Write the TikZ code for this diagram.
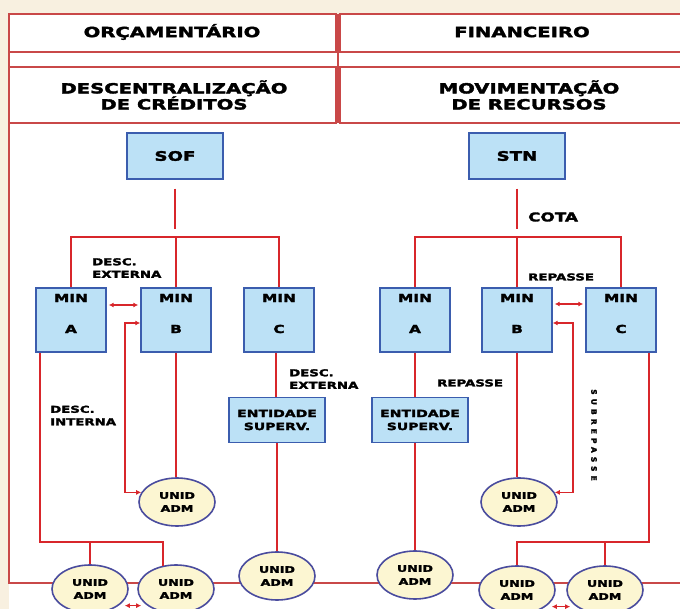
\documentclass[tikz,border=0pt]{standalone}
\usepackage{fontspec}
\newfontfamily\lbl[FakeStretch=1.4,BoldFeatures={FakeBold=2.5}]{DejaVu Sans}
\newfontfamily\vlbl[LetterSpace=55,BoldFeatures={FakeBold=2.5}]{DejaVu Sans}
\usetikzlibrary{shapes.geometric,arrows.meta}
\definecolor{cream}{HTML}{F8F0E0}
\definecolor{lred}{HTML}{D8262B}
\definecolor{fred}{HTML}{C94848}
\definecolor{boxfill}{HTML}{BCE1F6}
\definecolor{boxline}{HTML}{3B5DAE}
\definecolor{ellfill}{HTML}{FCF6D2}
\definecolor{ellline}{HTML}{4A4C9E}
\pgfdeclarelayer{bg}
\pgfsetlayers{bg,main}
\newcommand\minnode[3]{%
  \node[minbox] (#1) at (#2,320) {};
  \node[mtxt] at ([yshift=22pt]#1.center) {MIN};
  \node[mtxt] at ([yshift=-9pt]#1.center) {#3};}
\begin{document}
\begin{tikzpicture}[x=1pt,y=-1pt,
  conn/.style={draw=lred,line width=1.8pt},
  arr/.style={draw=lred,line width=1.3pt,{Latex[length=5pt,width=5pt]}-{Latex[length=5pt,width=5pt]}},
  frame/.style={draw=fred,line width=1.4pt},
  hdrtxt/.style={font=\lbl\bfseries\fontsize{14}{16}\selectfont,align=center,inner sep=0},
  topbox/.style={draw=boxline,line width=1.4pt,fill=boxfill,minimum width=96pt,minimum height=46pt,inner sep=0,font=\lbl\bfseries\fontsize{13}{15}\selectfont},
  minbox/.style={draw=boxline,line width=1.4pt,fill=boxfill,minimum width=70pt,minimum height=64pt,inner sep=0},
  mtxt/.style={font=\lbl\bfseries\fontsize{11}{13}\selectfont,inner sep=0},
  entbox/.style={draw=boxline,line width=1.4pt,fill=boxfill,minimum width=96pt,minimum height=45pt,inner sep=0,align=center,font=\lbl\bfseries\fontsize{10}{13}\selectfont},
  ell/.style={ellipse,draw=ellline,line width=1.6pt,fill=ellfill,minimum width=76pt,minimum height=48pt,inner sep=0,align=center,font=\lbl\bfseries\fontsize{9}{13}\selectfont},
  lab/.style={font=\lbl\bfseries\fontsize{9.5}{12.5}\selectfont,align=left,inner sep=0,anchor=west}]
\useasboundingbox (0,0) rectangle (680,609);
\clip (0,0) rectangle (680,609);

% headers
\draw[frame] (9,14) rectangle (336,52);
\draw[frame] (340,14) rectangle (710,52);
\draw[frame] (9,67) rectangle (336,123);
\draw[frame] (340,67) rectangle (710,123);
\draw[frame] (338,14) -- (338,123);
\node[hdrtxt] (h1) at (172,32) {ORÇAMENTÁRIO};
\node[hdrtxt] (h2) at (522,32) {FINANCEIRO};
\node[hdrtxt] (h3) at (174,95) {DESCENTRALIZAÇÃO\\DE CRÉDITOS};
\node[hdrtxt] (h4) at (529,95) {MOVIMENTAÇÃO\\DE RECURSOS};

% top boxes
\node[topbox] (SOF) at (175,156) {SOF};
\node[topbox] (STN) at (517,156) {STN};

% ministry boxes
\minnode{MinAL}{71}{A}
\minnode{MinBL}{176}{B}
\minnode{MinCL}{279}{C}
\minnode{MinAR}{415}{A}
\minnode{MinBR}{517}{B}
\minnode{MinCR}{621}{C}

% supervising entities
\node[entbox] (EntL) at (277,420) {ENTIDADE\\SUPERV.};
\node[entbox] (EntR) at (420,420) {ENTIDADE\\SUPERV.};

% administrative units
\node[ell] (U1) at (177,502) {UNID\\ADM};
\node[ell] (U2) at (519,502) {UNID\\ADM};
\node[ell] (B1) at (90,589) {UNID\\ADM};
\node[ell] (B2) at (176,589) {UNID\\ADM};
\node[ell] (B3) at (277,576) {UNID\\ADM};
\node[ell] (B4) at (415,575) {UNID\\ADM};
\node[ell] (B5) at (517,590) {UNID\\ADM};
\node[ell] (B6) at (605,590) {UNID\\ADM};

% background, outer frame line and bottom bus
\begin{pgfonlayer}{bg}
\fill[cream] (0,0) rectangle (680,609);
\fill[white] (9,14) rectangle (700,620);
\draw[frame,line width=1.6pt] (9,14) -- (9,583) -- (700,583);
\end{pgfonlayer}

\coordinate (barL) at (175,237);
\coordinate (barR) at (517,237);
\coordinate (jl) at (0,542);
\coordinate (dl) at (125,0);
\coordinate (sr) at (573,0);

% left tree
\draw[conn] ([yshift=-9pt]SOF.south) -- ++(0,40);
\draw[conn] (MinAL.north) -- (MinAL.north |- barL) -- (MinCL.north |- barL) -- (MinCL.north);
\draw[conn] (MinBL.north) -- (MinBL.north |- barL);
\draw[arr,shorten <=2pt,shorten >=2pt] ([yshift=15pt]MinAL.east) -- ([yshift=15pt]MinBL.west);
\draw[arr] ([yshift=-3pt]MinBL.west) -| (dl |- U1.165) -- (U1.165);
\draw[conn] (MinBL.south) -- (MinBL.south |- U1.north);
\draw[conn] ([xshift=5pt]MinAL.south west) |- ([xshift=-13pt]B2.north |- jl) -- ([xshift=-13pt,yshift=-2pt]B2.north);
\draw[conn] (B1.north |- jl) -- (B1.north);
\draw[conn] ([xshift=-3pt]MinCL.south) -- ([xshift=-3pt]MinCL.south |- EntL.north);
\draw[conn] (EntL.south) -- (B3.north);
\draw[arr,shorten <=6pt,shorten >=6pt] (B1.-30) -- (B2.-150);

% right tree
\draw[conn] ([yshift=-9pt]STN.south) -- ++(0,40);
\draw[conn] (MinAR.north) -- (MinAR.north |- barR) -- (MinCR.north |- barR) -- (MinCR.north);
\draw[conn] (MinBR.north) -- (MinBR.north |- barR);
\draw[arr,shorten <=2pt,shorten >=2pt] ([yshift=16pt]MinBR.east) -- ([yshift=16pt]MinCR.west);
\draw[arr] ([yshift=-3pt]MinBR.east) -| (sr |- U2.15) -- (U2.15);
\draw[conn] (MinBR.south) -- (MinBR.south |- U2.north);
\draw[conn] (MinAR.south) -- (MinAR.south |- EntR.north);
\draw[conn] (B4.north |- EntR.south) -- (B4.north);
\draw[conn] ([xshift=-8pt]MinCR.south east) |- (B5.north |- jl) -- (B5.north);
\draw[conn] (B6.north |- jl) -- (B6.north);
\draw[arr,shorten <=6pt,shorten >=6pt] (B5.-30) -- (B6.-150);

% labels
\node[lab] (l1) at (92,268) {DESC.\\EXTERNA};
\node[lab] (l2) at (50,415.5) {DESC.\\INTERNA};
\node[lab] (l3) at (289,379) {DESC.\\EXTERNA};
\node[lab,font=\lbl\bfseries\fontsize{12}{14}\selectfont] (l4) at (528,217) {COTA};
\node[lab] (l5) at (528,277) {REPASSE};
\node[lab] (l6) at (437,383) {REPASSE};
\node[font=\vlbl\bfseries\fontsize{7.5}{8}\selectfont,rotate=-90,inner sep=0] (l7) at (594,435) {SUBREPASSE};
\end{tikzpicture}
\end{document}
